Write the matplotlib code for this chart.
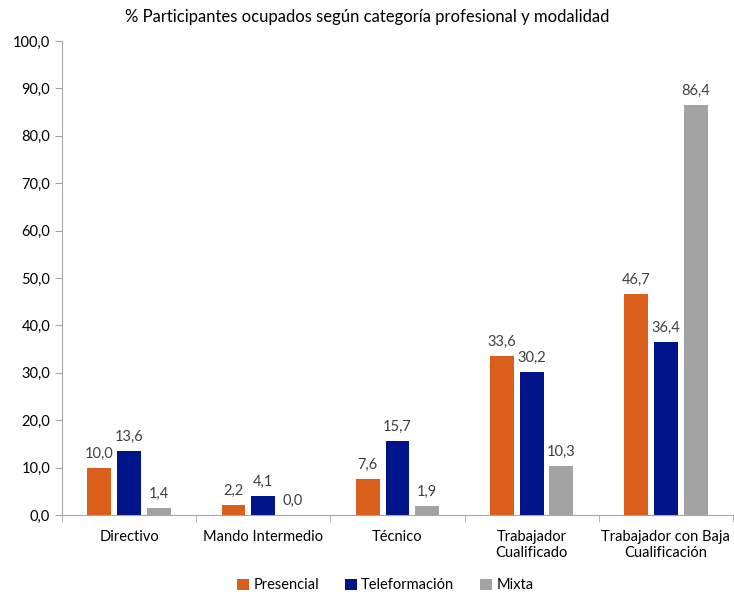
import numpy as np
import matplotlib
matplotlib.use("Agg")
import matplotlib.pyplot as plt

categories = ["Directivo", "Mando Intermedio", "Técnico", "Trabajador\nCualificado",
              "Trabajador con Baja\nCualificación"]
presencial = [10.0, 2.2, 7.6, 33.6, 46.7]
teleformacion = [13.6, 4.1, 15.7, 30.2, 36.4]
mixta = [1.4, 0.0, 1.9, 10.3, 86.4]
series_names = ["Presencial", "Teleformación", "Mixta"]

plt.rcParams['font.family'] = ['Lato', 'DejaVu Sans']

colors = ['#DA5F1B', '#001489', '#A3A3A3']
txt = '#404040'
axis_col = '#A6A6A6'

fig = plt.figure(figsize=(7.34, 5.94), dpi=100)
ax = fig.add_axes([0.0845, 0.133, 0.914, 0.798])

x = np.arange(len(categories))
w = 0.178
step = 0.222
for i, (vals, name) in enumerate(zip([presencial, teleformacion, mixta], series_names)):
    bars = ax.bar(x + (i - 1) * step, vals, w, color=colors[i], label=name)
    for b, v in zip(bars, vals):
        ax.text(b.get_x() + b.get_width() / 2, v + 1.5, f"{v:.1f}".replace('.', ','),
                ha='center', va='bottom', fontsize=10.5, color=txt)

ax.set_xlim(-0.5, len(categories) - 0.5)
ax.set_ylim(0, 100)
ax.set_yticks(np.arange(0, 101, 10))
ax.set_yticklabels([f"{v:.1f}".replace('.', ',') for v in np.arange(0, 101, 10)])
ax.set_xticks(x)
ax.set_xticklabels(categories)
ax.set_xticks(np.arange(-0.5, len(categories)), minor=True)
ax.tick_params(axis='x', which='major', length=0, pad=11, labelsize=10.5, labelcolor='black')
ax.tick_params(axis='x', which='minor', length=5, color=axis_col)
ax.tick_params(axis='y', length=5, color=axis_col, labelsize=10.5, labelcolor='black')
for s in ['top', 'right']:
    ax.spines[s].set_visible(False)
for s in ['left', 'bottom']:
    ax.spines[s].set_color(axis_col)

fig.suptitle("% Participantes ocupados según categoría profesional y modalidad",
             y=0.985, fontsize=12, color='black')
fig.legend(loc='lower center', bbox_to_anchor=(0.525, -0.019), ncol=3, frameon=False,
           fontsize=10.5, handlelength=0.8, handleheight=0.8, handletextpad=0.3,
           columnspacing=1.8)

fig.savefig("out.png", dpi=100)
